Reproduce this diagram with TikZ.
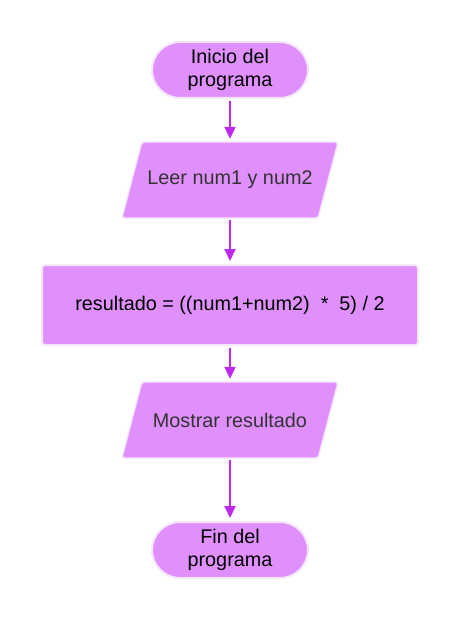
\documentclass[tikz,border=0pt]{standalone}
\usepackage{fontspec}
\setmainfont{Liberation Sans}
\usetikzlibrary{arrows.meta}
\definecolor{boxfill}{RGB}{224,144,252}
\definecolor{boxedge}{RGB}{246,232,252}
\definecolor{arrowc}{RGB}{190,40,240}
\definecolor{txtgray}{RGB}{51,51,51}
\tikzset{
  labelfont/.style={font=\fontsize{19.8}{22.5}\selectfont},
  terminal/.style={draw=boxedge, line width=2pt, fill=boxfill, rounded corners=28pt,
    minimum width=156pt, minimum height=56pt, inner sep=0pt, align=center, labelfont},
  iobox/.style={inner sep=0pt, minimum width=196pt, minimum height=76pt, align=center,
    text=txtgray, labelfont},
  procbox/.style={draw=boxedge, line width=2pt, fill=boxfill, rounded corners=3pt,
    minimum width=376pt, minimum height=80pt, inner sep=0pt, align=center, labelfont},
  para/.style={draw=boxedge, line width=1.5pt, fill=boxfill, rounded corners=3pt},
  flow/.style={draw=arrowc, line width=2pt, -{Triangle[length=12pt,width=11pt]},
    shorten <=2pt, shorten >=3pt}
}
\begin{document}
\begin{tikzpicture}[x=1pt,y=-1pt]
\useasboundingbox (0,0) rectangle (460,620);
\node[terminal] (start) at (230,70) {Inicio del\\programa};
\node[iobox] (read) at (230,180) {};
\path[para] ([xshift=10pt]read.north west) -- ([xshift=10pt]read.north east)
  -- ([xshift=-10pt]read.south east) -- ([xshift=-10pt]read.south west) -- cycle;
\node[iobox] at (read.center) {Leer num1 y num2};
\node[procbox] (calc) at (230,305) {resultado = ((num1+num2)\ \ *\ \ 5) / 2};
\node[iobox] (show) at (230,420) {};
\path[para] ([xshift=10pt]show.north west) -- ([xshift=10pt]show.north east)
  -- ([xshift=-10pt]show.south east) -- ([xshift=-10pt]show.south west) -- cycle;
\node[iobox] at (show.center) {Mostrar resultado};
\node[terminal] (stop) at (230,550) {Fin del\\programa};
\draw[flow] (start) -- (read);
\draw[flow] (read) -- (calc);
\draw[flow] (calc) -- (show);
\draw[flow] (show) -- (stop);
\end{tikzpicture}
\end{document}
